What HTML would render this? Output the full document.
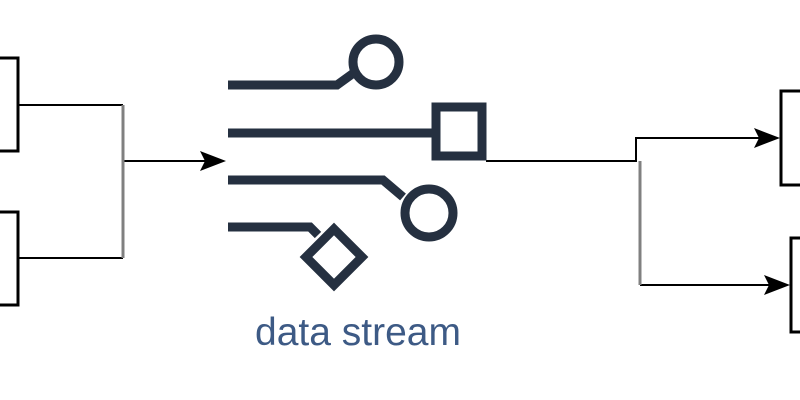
<!DOCTYPE html>
<html><head><style>html,body{margin:0;padding:0;background:#fff;width:800px;height:400px;overflow:hidden}</style></head>
<body>
<svg width="800" height="400" xmlns="http://www.w3.org/2000/svg">
<g fill="none" stroke="#000" stroke-width="3">
<rect x="-10" y="58" width="28" height="93"/>
<rect x="-10" y="212" width="28" height="93"/>
<rect x="781" y="91" width="40" height="94"/>
<rect x="791" y="238" width="40" height="94"/>
</g>
<g fill="none" stroke="#000" stroke-width="2">
<path d="M18 105H123M18 258H123M123 161H210"/>
<path d="M486 161H636V138H770"/>
<path d="M640 285H780"/>
</g>
<g stroke="#808080" stroke-width="3">
<path d="M123 105V258"/>
<path d="M640 161V285"/>
</g>
<g fill="#000">
<path d="M200 151L226 161L200 171L205 161Z"/>
<path d="M754 128L780 138L754 148L759 138Z"/>
<path d="M764 275L790 285L764 295L769 285Z"/>
</g>
<g fill="none" stroke="#253040" stroke-width="9">
<path d="M228 85H337L355 72"/>
<circle cx="376" cy="62" r="23"/>
<path d="M228 133H436"/>
<rect x="436" y="107" width="46" height="49"/>
<path d="M228 180H383L403 197"/>
<circle cx="429" cy="213" r="24"/>
<path d="M228 227H310L318 235"/>
<path d="M334 229L362 257L334 285L306 257Z"/>
</g>
<text x="358" y="345" text-anchor="middle" font-family="Liberation Sans, sans-serif" font-size="39" fill="#3d5a85">data stream</text>
</svg>
</body></html>
